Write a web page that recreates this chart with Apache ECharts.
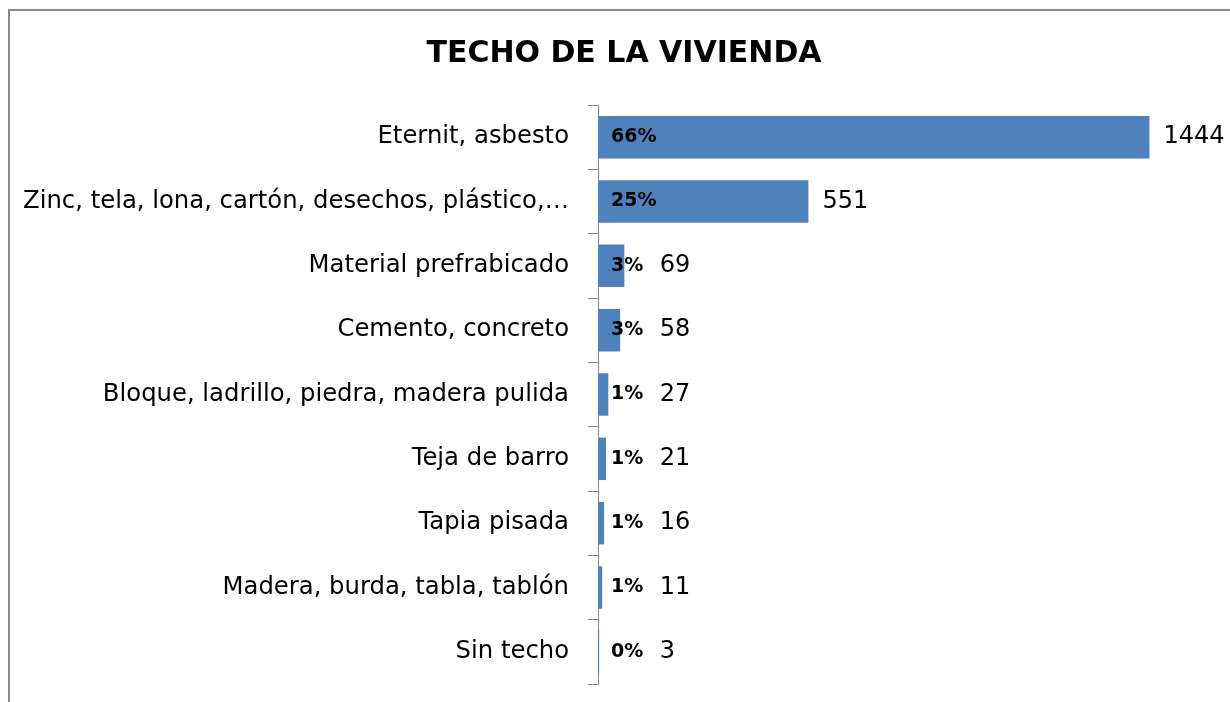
<!DOCTYPE html>
<html>
<head>
    <meta charset="utf-8">
    <script src="https://cdn.jsdelivr.net/npm/echarts@6/dist/echarts.min.js"></script>
    <style>
        body { margin: 0; background: #fff; }
        #frame { position: absolute; left: 8px; top: 9px; width: 1300px; height: 800px;
                 border-left: 2px solid #868686; border-top: 2px solid #868686; }
        #main { position: absolute; left: 0; top: 0; width: 1230px; height: 702px; }
    </style>
</head>
<body>
<div id="frame"></div>
<div id="main"></div>
<script type="text/javascript">
    // datos
    var categorias = [
        'Eternit, asbesto',
        'Zinc, tela, lona, cartón, desechos, plástico,…',
        'Material prefrabicado',
        'Cemento, concreto',
        'Bloque, ladrillo, piedra, madera pulida',
        'Teja de barro',
        'Tapia pisada',
        'Madera, burda, tabla, tablón',
        'Sin techo'
    ];
    var viviendas = [1444, 551, 69, 58, 27, 21, 16, 11, 3];
    var porcentajes = ['66%', '25%', '3%', '3%', '1%', '1%', '1%', '1%', '0%'];

    // las etiquetas de valor no quedan pegadas a barras muy cortas
    var minEtiqueta = 125;

    var fuente = '"DejaVu Sans", sans-serif';
    var myChart = echarts.init(document.getElementById('main'));

    var option = {
        backgroundColor: 'transparent',
        animation: false,
        title: {
            text: 'TECHO DE LA VIVIENDA',
            left: 619,
            textAlign: 'center',
            top: 34,
            textStyle: { fontFamily: fuente, fontWeight: 'bold', fontSize: 30, color: '#000' }
        },
        grid: { left: 598, right: 21, top: 105, bottom: 18, containLabel: false },
        xAxis: {
            type: 'value',
            min: 0,
            max: 1600,
            show: false
        },
        yAxis: {
            type: 'category',
            data: categorias,
            inverse: true,
            axisLine: { show: true, lineStyle: { color: '#868686', width: 1 } },
            axisTick: { show: true, length: 10, lineStyle: { color: '#868686' } },
            axisLabel: { fontFamily: fuente, fontSize: 24.3, color: '#000', margin: 29 }
        },
        series: [
            {
                type: 'bar',
                data: viviendas,
                barCategoryGap: '34%',
                itemStyle: { color: '#4F81BD' },
                label: {
                    show: true,
                    position: 'insideLeft',
                    distance: 13,
                    fontFamily: fuente,
                    fontWeight: 'bold',
                    fontSize: 19,
                    color: '#000',
                    formatter: function (p) { return porcentajes[p.dataIndex]; }
                },
                z: 2
            },
            {
                // serie auxiliar invisible que ubica las etiquetas de cantidad
                type: 'bar',
                data: viviendas.map(function (v) { return Math.max(v, minEtiqueta); }),
                barGap: '-100%',
                barCategoryGap: '34%',
                silent: true,
                itemStyle: { color: 'rgba(0,0,0,0)' },
                label: {
                    show: true,
                    position: 'right',
                    distance: 14,
                    fontFamily: fuente,
                    fontSize: 24,
                    color: '#000',
                    formatter: function (p) { return viviendas[p.dataIndex]; }
                },
                z: 1
            }
        ]
    };
    myChart.setOption(option);
</script>
</body>
</html>
